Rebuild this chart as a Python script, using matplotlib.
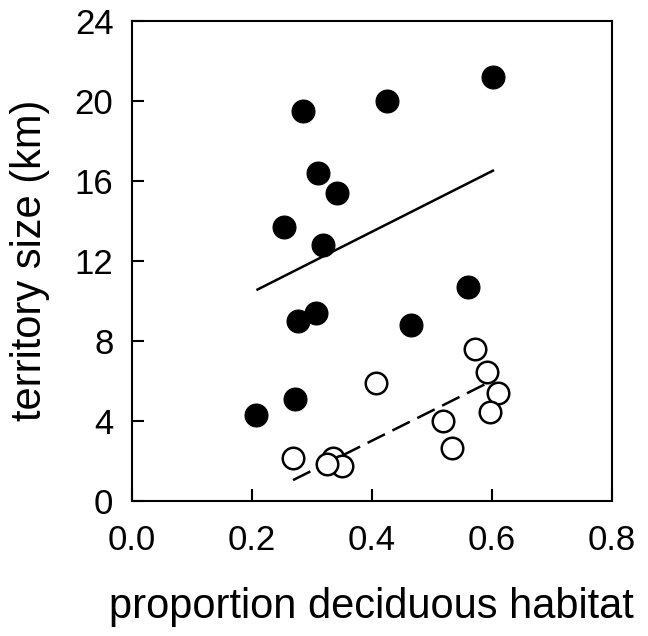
import matplotlib
matplotlib.use("Agg")
import matplotlib.pyplot as plt

plt.rcParams['font.family'] = ['Liberation Sans', 'DejaVu Sans']
plt.rcParams['lines.scale_dashes'] = False

# filled circles (upper group)
filled_x = [0.603, 0.425, 0.286, 0.310, 0.343, 0.254, 0.319, 0.560, 0.308, 0.277, 0.465, 0.273, 0.208]
filled_y = [21.2, 20.0, 19.5, 16.4, 15.4, 13.7, 12.8, 10.7, 9.4, 9.0, 8.8, 5.1, 4.3]

# open circles (lower group)
open_x = [0.573, 0.593, 0.611, 0.597, 0.407, 0.519, 0.534, 0.269, 0.336, 0.350, 0.326]
open_y = [7.6, 6.45, 5.37, 4.42, 5.9, 4.0, 2.65, 2.15, 2.12, 1.75, 1.83]

# fitted lines (end points)
solid_x = [0.208, 0.604]
solid_y = [10.53, 16.53]
dash_x = [0.269, 0.592]
dash_y = [1.03, 5.87]

fig = plt.figure(figsize=(6.48, 6.36), dpi=100)
ax = fig.add_axes([0.203, 0.2127, 0.741, 0.7548])

ax.plot(solid_x, solid_y, color='black', lw=1.8, solid_capstyle='butt', zorder=2)
ax.plot(dash_x, dash_y, color='black', lw=1.8, dashes=(14, 6), dash_capstyle='butt', zorder=2)

ax.plot(filled_x, filled_y, 'o', ms=16.5, mfc='black', mec='black', mew=0.8, zorder=3)
for x, y in zip(open_x, open_y):
    ax.plot(x, y, 'o', ms=15.5, mfc='white', mec='black', mew=1.8, zorder=3)

ax.set_xlim(0, 0.8)
ax.set_ylim(0, 24)
ax.set_xticks([0.0, 0.2, 0.4, 0.6, 0.8])
ax.set_xticklabels(['0.0', '0.2', '0.4', '0.6', '0.8'])
ax.set_yticks([0, 4, 8, 12, 16, 20, 24])

for s in ax.spines.values():
    s.set_linewidth(1.5)

ax.tick_params(axis='both', direction='in', length=8.5, width=1.5, labelsize=25)
ax.tick_params(axis='x', pad=17)
ax.tick_params(axis='y', pad=13)

ax.set_xlabel('proportion deciduous habitat', fontsize=30, labelpad=21)
ax.set_ylabel('territory size (km)', fontsize=30, labelpad=18)

fig.savefig('out.png', dpi=100)
